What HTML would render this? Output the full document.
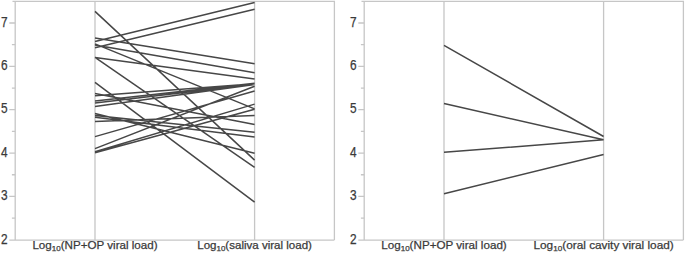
<!DOCTYPE html>
<html><head><meta charset="utf-8"><style>
html,body{margin:0;padding:0;background:#fff;}
body{width:685px;height:253px;overflow:hidden;}
svg{display:block;}
text{font-family:"Liberation Sans",sans-serif;fill:#3a3a3a;}
.tk{font-size:13.8px;stroke:#3a3a3a;stroke-width:0.25px;}
.xl{font-size:11px;stroke:#3a3a3a;stroke-width:0.25px;}
.sub{font-size:7.6px;}
</style></head><body>
<svg width="685" height="253" viewBox="0 0 685 253">
<path d="M12.5 1.4H334.4V240.1" fill="none" stroke="#c6c6c6" stroke-width="1.3"/>
<path d="M15.2 1.4V240.1M9.3 240.1H334.4" fill="none" stroke="#c6c6c6" stroke-width="1.3"/>
<path d="M95.0 1.4V240.1M254.6 1.4V240.1" fill="none" stroke="#c6c6c6" stroke-width="1.3"/>
<path d="M9.3 196.44H15.2M9.3 153.08H15.2M9.3 109.72H15.2M9.3 66.36H15.2M9.3 23.00H15.2M11.9 218.12H15.2M11.9 174.76H15.2M11.9 131.40H15.2M11.9 88.04H15.2M11.9 44.68H15.2" fill="none" stroke="#c6c6c6" stroke-width="1.3"/>
<text x="0.9" y="243.50" class="tk" textLength="6.6" lengthAdjust="spacingAndGlyphs">2</text>
<text x="0.9" y="200.14" class="tk" textLength="6.6" lengthAdjust="spacingAndGlyphs">3</text>
<text x="0.9" y="156.78" class="tk" textLength="6.6" lengthAdjust="spacingAndGlyphs">4</text>
<text x="0.9" y="113.42" class="tk" textLength="6.6" lengthAdjust="spacingAndGlyphs">5</text>
<text x="0.9" y="70.06" class="tk" textLength="6.6" lengthAdjust="spacingAndGlyphs">6</text>
<text x="0.9" y="26.70" class="tk" textLength="6.6" lengthAdjust="spacingAndGlyphs">7</text>
<path d="M95.0 11.4L254.6 160.1M95.0 38.0L254.6 63.7M95.0 41.6L254.6 2.4M95.0 45.1L254.6 72.8M95.0 43.9L254.6 108.9M95.0 47.8L254.6 9.2M95.0 57.4L254.6 79.1M95.0 57.4L254.6 167.3M95.0 82.3L254.6 202.1M95.0 93.4L254.6 124.5M95.0 95.8L254.6 83.8M95.0 100.9L254.6 83.3M95.0 103.0L254.6 84.2M95.0 106.4L254.6 84.6M95.0 113.6L254.6 153.3M95.0 115.4L254.6 132.2M95.0 117.2L254.6 136.9M95.0 121.6L254.6 115.6M95.0 136.6L254.6 91.0M95.0 148.6L254.6 86.3M95.0 151.8L254.6 104.1M95.0 152.7L254.6 109.2" fill="none" stroke="#474747" stroke-width="1.5" stroke-linecap="butt"/>
<text x="32.40" y="248.6" class="xl" textLength="125.2" lengthAdjust="spacingAndGlyphs">Log<tspan class="sub" dy="2.1">10</tspan><tspan dy="-2.1">(NP+OP viral load)</tspan></text>
<text x="197.25" y="248.6" class="xl" textLength="114.7" lengthAdjust="spacingAndGlyphs">Log<tspan class="sub" dy="2.1">10</tspan><tspan dy="-2.1">(saliva viral load)</tspan></text>
<path d="M361.5 1.4H683.4V240.1" fill="none" stroke="#c6c6c6" stroke-width="1.3"/>
<path d="M364.2 1.4V240.1M358.3 240.1H683.4" fill="none" stroke="#c6c6c6" stroke-width="1.3"/>
<path d="M444.0 1.4V240.1M603.6 1.4V240.1" fill="none" stroke="#c6c6c6" stroke-width="1.3"/>
<path d="M358.3 196.44H364.2M358.3 153.08H364.2M358.3 109.72H364.2M358.3 66.36H364.2M358.3 23.00H364.2M360.9 218.12H364.2M360.9 174.76H364.2M360.9 131.40H364.2M360.9 88.04H364.2M360.9 44.68H364.2" fill="none" stroke="#c6c6c6" stroke-width="1.3"/>
<text x="349.9" y="243.50" class="tk" textLength="6.6" lengthAdjust="spacingAndGlyphs">2</text>
<text x="349.9" y="200.14" class="tk" textLength="6.6" lengthAdjust="spacingAndGlyphs">3</text>
<text x="349.9" y="156.78" class="tk" textLength="6.6" lengthAdjust="spacingAndGlyphs">4</text>
<text x="349.9" y="113.42" class="tk" textLength="6.6" lengthAdjust="spacingAndGlyphs">5</text>
<text x="349.9" y="70.06" class="tk" textLength="6.6" lengthAdjust="spacingAndGlyphs">6</text>
<text x="349.9" y="26.70" class="tk" textLength="6.6" lengthAdjust="spacingAndGlyphs">7</text>
<path d="M444.0 45.4L603.6 136.5M444.0 103.4L603.6 139.8M444.0 152.3L603.6 139.8M444.0 193.8L603.6 154.5" fill="none" stroke="#474747" stroke-width="1.5" stroke-linecap="butt"/>
<text x="381.25" y="248.6" class="xl" textLength="125.5" lengthAdjust="spacingAndGlyphs">Log<tspan class="sub" dy="2.1">10</tspan><tspan dy="-2.1">(NP+OP viral load)</tspan></text>
<text x="533.50" y="248.6" class="xl" textLength="140.2" lengthAdjust="spacingAndGlyphs">Log<tspan class="sub" dy="2.1">10</tspan><tspan dy="-2.1">(oral cavity viral load)</tspan></text>
</svg>
</body></html>
